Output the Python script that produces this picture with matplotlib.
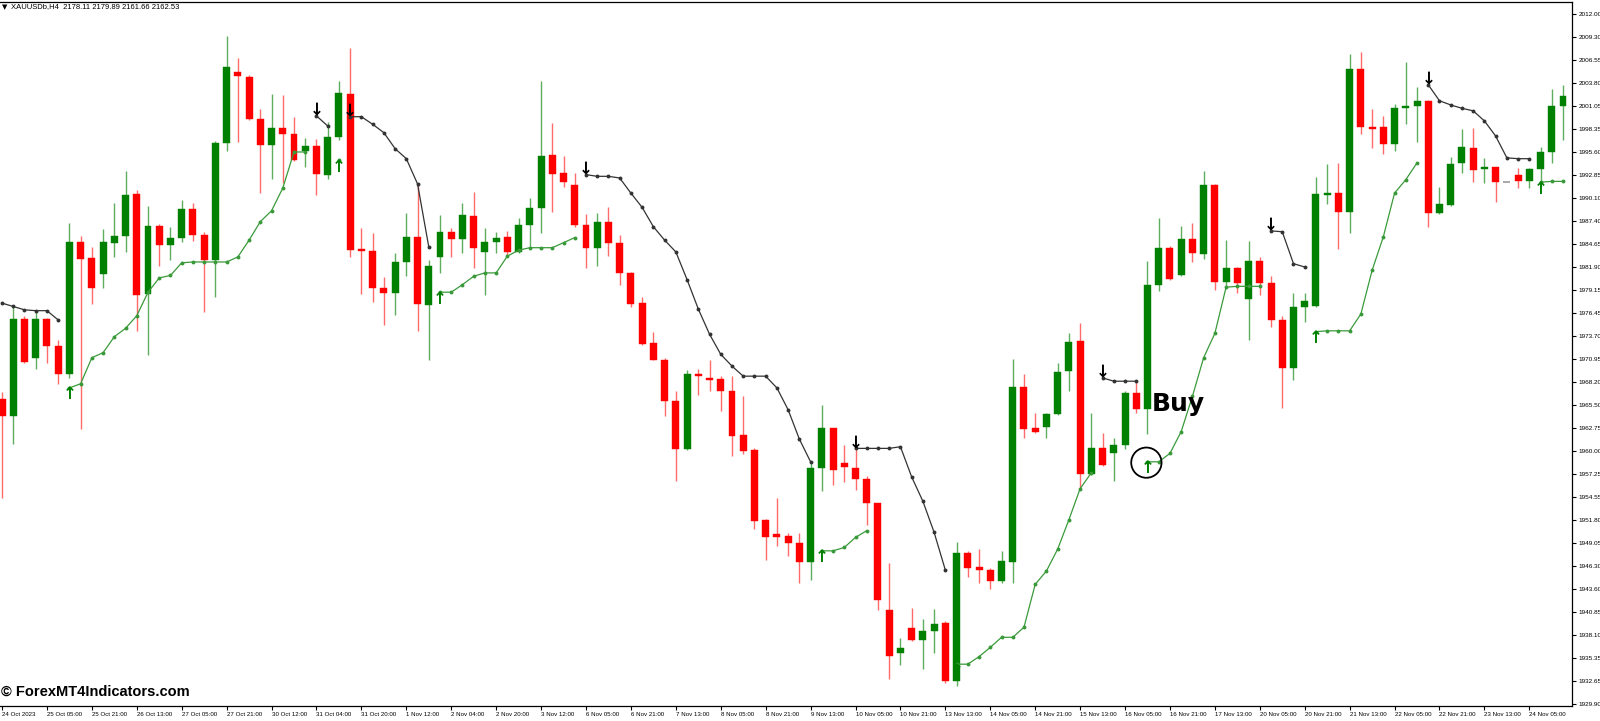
import numpy as np
import matplotlib
matplotlib.use("Agg")
import matplotlib.pyplot as plt
from matplotlib.patches import Ellipse

plt.rcParams['font.family'] = ['Liberation Sans', 'DejaVu Sans']

opens = [1966.2,1964.2,1975.7,1971.1,1975.7,1972.5,1969.2,1984.9,1983.0,1981.1,
         1984.8,1985.6,1990.6,1978.7,1986.8,1984.5,1985.4,1988.8,1985.7,1982.7,
         1996.7,2005.1,2004.5,1999.5,1996.4,1998.5,1997.7,1995.7,1996.3,1992.9,
         1997.4,2002.5,1983.9,1983.8,1979.4,1978.8,1982.5,1985.5,1977.4,1983.1,
         1986.1,1985.2,1988.0,1983.7,1984.9,1985.5,1983.7,1986.9,1988.9,1995.2,
         1993.1,1991.7,1986.9,1984.2,1987.3,1984.8,1981.2,1977.6,1972.9,1970.8,
         1965.9,1960.2,1969.2,1968.7,1968.6,1967.1,1961.9,1960.1,1951.8,1950.1,
         1949.9,1949.0,1946.8,1958.0,1962.7,1958.6,1958.0,1956.7,1953.8,1941.0,
         1935.9,1938.9,1937.5,1938.6,1939.5,1932.6,1947.8,1946.2,1945.8,1944.5,
         1946.8,1967.6,1962.7,1962.8,1964.4,1969.5,1973.1,1957.2,1960.3,1959.7,
         1960.7,1966.9,1965.0,1979.8,1984.2,1981.0,1985.2,1983.5,1991.7,1980.1,
         1981.8,1978.1,1982.6,1980.0,1975.6,1969.9,1977.1,1977.3,1990.5,1990.7,
         1988.5,2005.5,1998.6,1998.6,1996.5,2000.8,2001.1,2001.7,1988.3,1989.3,
         1994.3,1996.1,1993.6,1993.8,1992.0,1992.9,1992.1,1993.6,1995.6,2001.1]
highs = [1967.0,1977.1,1976.1,1976.5,1975.8,1973.2,1987.1,1985.6,1984.3,1986.4,
         1989.5,1993.3,1991.1,1989.2,1987.0,1986.7,1989.9,1989.5,1986.1,1996.9,
         2009.4,2006.8,2004.8,2000.7,2002.5,2002.4,1999.8,1997.3,1997.1,1999.2,
         2004.1,2008.0,1986.5,1985.9,1980.7,1983.6,1988.3,1991.9,1982.7,1988.1,
         1986.5,1989.5,1990.8,1986.5,1986.1,1986.2,1987.7,1990.1,2004.1,1999.1,
         1995.1,1993.1,1988.2,1988.3,1989.0,1985.7,1981.3,1978.3,1974.2,1971.1,
         1967.1,1969.6,1969.8,1970.8,1968.9,1968.9,1966.5,1960.4,1951.9,1954.4,
         1950.2,1950.2,1958.6,1965.5,1962.7,1960.7,1960.3,1957.0,1953.8,1946.6,
         1937.7,1941.3,1940.0,1941.2,1939.7,1949.1,1948.1,1948.3,1946.1,1948.1,
         1970.9,1969.2,1964.5,1964.5,1970.5,1974.0,1975.2,1964.5,1962.1,1961.5,
         1967.1,1968.3,1982.6,1987.7,1984.4,1986.8,1987.1,1993.3,1991.8,1985.1,
         1981.9,1985.0,1983.1,1980.8,1976.1,1978.8,1978.8,1992.6,1994.2,1994.3,
         2007.3,2007.5,2000.7,1999.9,2001.3,2006.3,2003.3,2001.8,1991.4,1995.0,
         1998.3,1998.5,1994.9,1993.8,1992.0,1993.7,1993.7,1996.2,2003.1,2003.6]
lows = [1954.4,1960.8,1970.5,1969.8,1970.5,1968.0,1968.7,1962.6,1977.5,1979.4,
        1983.1,1983.7,1974.3,1971.4,1982.0,1982.7,1984.9,1985.0,1976.5,1978.3,
        1995.7,1996.8,1999.4,1990.7,1992.4,1991.9,1994.5,1993.8,1990.5,1992.4,
        1997.0,1983.1,1978.7,1977.7,1975.0,1976.2,1980.8,1974.3,1970.8,1981.2,
        1983.1,1983.6,1981.8,1978.6,1983.6,1983.1,1983.6,1984.2,1985.9,1988.5,
        1991.4,1986.7,1981.8,1982.0,1983.2,1979.8,1977.1,1972.6,1970.8,1964.2,
        1956.4,1960.1,1966.7,1967.1,1964.7,1959.4,1959.6,1950.7,1947.0,1948.7,
        1947.5,1944.3,1944.6,1955.2,1955.9,1956.3,1955.3,1951.2,1941.0,1932.8,
        1934.5,1937.4,1934.0,1935.9,1932.4,1932.0,1945.0,1944.3,1943.5,1944.3,
        1944.3,1961.5,1962.1,1961.5,1964.3,1967.1,1955.6,1957.1,1958.2,1956.4,
        1960.2,1964.5,1962.0,1979.0,1980.4,1980.8,1982.5,1982.9,1979.2,1979.5,
        1978.8,1973.2,1978.6,1974.8,1965.1,1968.4,1975.3,1977.1,1989.4,1984.0,
        1985.9,1997.7,1996.1,1995.4,1995.7,1998.9,1996.8,1986.7,1988.2,1989.2,
        1993.1,1992.0,1991.9,1989.6,1992.0,1991.3,1991.3,1991.4,1994.3,1997.0]
closes = [1964.2,1975.7,1970.6,1975.7,1972.5,1969.2,1984.9,1982.9,1979.4,1984.9,
          1985.6,1990.5,1978.6,1986.8,1984.5,1985.4,1988.8,1985.7,1982.7,1996.7,
          2005.7,2004.6,1999.5,1996.4,1998.5,1997.7,1994.6,1996.3,1993.0,1997.4,
          2002.6,1983.9,1983.8,1979.4,1978.8,1982.5,1985.5,1977.5,1982.0,1986.1,
          1985.2,1988.1,1984.2,1984.9,1985.4,1983.7,1986.9,1988.9,1995.1,1993.0,
          1992.0,1986.9,1984.2,1987.3,1984.8,1981.2,1977.5,1972.7,1970.8,1965.9,
          1960.2,1969.2,1968.9,1968.4,1967.1,1961.8,1960.0,1951.6,1949.7,1949.7,
          1949.0,1946.8,1958.0,1962.7,1957.7,1958.1,1956.7,1953.8,1942.2,1935.6,
          1936.5,1937.5,1938.6,1939.4,1932.6,1947.8,1946.1,1945.8,1944.5,1946.9,
          1967.6,1962.6,1962.3,1964.4,1969.4,1973.0,1957.2,1960.3,1958.3,1960.7,
          1966.9,1965.0,1979.8,1984.2,1980.5,1985.2,1983.6,1991.7,1980.1,1981.8,
          1980.0,1982.6,1980.0,1975.6,1969.9,1977.1,1977.9,1990.6,1990.7,1988.5,
          2005.5,1998.6,1998.3,1996.5,2000.8,2001.1,2001.7,1988.3,1989.4,1994.2,
          1996.2,1993.5,1993.7,1992.0,1992.0,1992.1,1993.6,1995.6,2001.1,2002.3]

# trailing-stop style lines: (start index, values, has start arrow)
down_segments = [
    (0, [1977.6,1977.2,1976.8,1976.7,1976.7,1975.6], False),
    (28, [1999.9,1998.7], True),
    (31, [1999.8,1999.8,1998.9,1997.9,1996.0,1994.8,1991.8,1984.3], True),
    (52, [1992.9,1992.7,1992.7,1992.5,1990.7,1989.0,1986.7,1985.1,1983.7,1980.4,
          1976.9,1973.9,1971.5,1970.1,1968.9,1968.9,1968.9,1967.5,1964.9,1961.4,1958.7], True),
    (76, [1960.3,1960.3,1960.3,1960.3,1960.5,1956.9,1954.0,1950.3,1945.8], True),
    (98, [1968.7,1968.3,1968.3,1968.3], True),
    (113, [1986.2,1986.1,1982.3,1981.9], True),
    (127, [2003.6,2001.7,2001.2,2000.8,2000.5,1999.3,1997.5,1994.9,1994.8,1994.8], True),
]
up_segments = [
    (6, [1967.5,1968.0,1971.1,1971.7,1973.6,1974.6,1976.1,1978.9,1980.6,1980.9,1982.4,
         1982.5,1982.5,1982.5,1982.5,1983.1,1985.1,1987.3,1988.6,1991.3,1995.6,1995.6]),
    (30, [1994.6]),
    (39, [1978.9,1978.9,1979.8,1980.8,1981.2,1981.2,1983.2,1983.9,1984.2,1984.2,1984.2,
          1984.8,1985.4]),
    (73, [1948.1,1948.1,1948.5,1949.7,1950.5]),
    (85, [1934.6,1934.6,1935.5,1936.6,1937.8,1937.8,1939.0,1944.1,1945.7,1948.3,1951.8,
          1955.5,1957.4]),
    (102, [1958.7,1958.7,1959.7,1962.3,1966.5,1971.1,1974.0,1979.5,1979.6,1979.6,1979.6]),
    (117, [1974.2,1974.3,1974.3,1974.3,1976.3,1981.5,1985.5,1990.7,1992.3,1994.3]),
    (137, [1992.0,1992.1,1992.1]),
]

date_labels = ["24 Oct 2023","25 Oct 05:00","25 Oct 21:00","26 Oct 13:00","27 Oct 05:00",
               "27 Oct 21:00","30 Oct 12:00","31 Oct 04:00","31 Oct 20:00","1 Nov 12:00",
               "2 Nov 04:00","2 Nov 20:00","3 Nov 12:00","6 Nov 05:00","6 Nov 21:00",
               "7 Nov 13:00","8 Nov 05:00","8 Nov 21:00","9 Nov 13:00","10 Nov 05:00",
               "10 Nov 21:00","13 Nov 13:00","14 Nov 05:00","14 Nov 21:00","15 Nov 13:00",
               "16 Nov 05:00","16 Nov 21:00","17 Nov 13:00","20 Nov 05:00","20 Nov 21:00",
               "21 Nov 13:00","22 Nov 05:00","22 Nov 21:00","23 Nov 13:00","24 Nov 05:00"]
price_ticks = [2012.00,2009.30,2006.55,2003.80,2001.05,1998.35,1995.60,1992.85,1990.10,
               1987.40,1984.65,1981.90,1979.15,1976.45,1973.70,1970.95,1968.20,1965.50,
               1962.75,1960.00,1957.25,1954.55,1951.80,1949.05,1946.30,1943.60,1940.85,
               1938.10,1935.35,1932.65,1929.90]

W, H = 1600, 721
fig = plt.figure(figsize=(W/100, H/100), dpi=100)
ax = fig.add_axes([0, 1-706/H, 1572/W, 704/H])
ax.set_xlim(-0.18, 139.8)
ax.set_ylim(1929.62, 2013.46)

GREEN = '#008000'; RED = '#ff0000'
o = np.array(opens); h = np.array(highs); l = np.array(lows); c = np.array(closes)
x = np.arange(len(o))
for i in x:
    if abs(c[i]-o[i]) < 0.01 and h[i]-l[i] < 0.01:
        ax.hlines(o[i], i-0.3, i+0.3, color='#999999', lw=1.2)
        continue
    col = GREEN if c[i] > o[i] else RED
    wcol = '#5fae5f' if c[i] > o[i] else '#ff6a6a'
    ax.vlines(i, l[i], h[i], color=wcol, lw=1.0, zorder=2)
    bot = min(o[i], c[i]); ht = max(abs(c[i]-o[i]), 0.25)
    ax.bar(i, ht, bottom=bot, width=0.62, color=col, edgecolor=col, lw=0.3, zorder=3)

for s, vals, arrow in down_segments:
    xs = np.arange(s, s+len(vals))
    ax.plot(xs, vals, color='#333333', lw=0.9, marker='o', ms=1.8, zorder=4)
    if arrow:
        ax.text(s, vals[0]-0.4, '↓', ha='center', va='bottom', fontsize=12, fontweight='bold',
                color='black', family='DejaVu Sans', zorder=5)
for s, vals in up_segments:
    xs = np.arange(s, s+len(vals))
    ax.plot(xs, vals, color='#3a9a3a', lw=0.9, marker='o', ms=1.8, zorder=4)
    ax.text(s, vals[0]+0.3, '↑', ha='center', va='top', fontsize=12, fontweight='bold',
            color=GREEN, family='DejaVu Sans', zorder=5)

ax.add_patch(Ellipse((101.9, 1958.6), 2.7, 3.6, fill=False, ec='black', lw=1.3, zorder=6))
ax.text(102.4, 1965.6, 'Buy', fontsize=18, fontweight='bold', family='DejaVu Sans',
        ha='left', va='center', zorder=6)

ax.spines['left'].set_visible(False)
for sp in ['top', 'right', 'bottom']:
    ax.spines[sp].set_linewidth(0.9)

ax.yaxis.tick_right()
ax.set_yticks(price_ticks)
ax.set_yticklabels([f"{v:.2f}" for v in price_ticks], fontsize=4.6)
ax.tick_params(axis='y', length=3, pad=1.5)
ax.set_xticks(np.arange(0, 4*len(date_labels), 4))
ax.set_xticklabels(date_labels, fontsize=4.4, ha='left')
ax.tick_params(axis='x', length=3, pad=1)

fig.text(2/W, 1-7/H, '▼', fontsize=5, va='center', ha='left', family='DejaVu Sans')
fig.text(11/W, 1-7/H, 'XAUUSDb,H4  2178.11 2179.89 2161.66 2162.53', fontsize=5.5, va='center', ha='left')
fig.text(1/W, 1-692/H, '© ForexMT4Indicators.com', fontsize=10.5, fontweight='bold', va='center', ha='left')

fig.savefig('out.png', dpi=100)
